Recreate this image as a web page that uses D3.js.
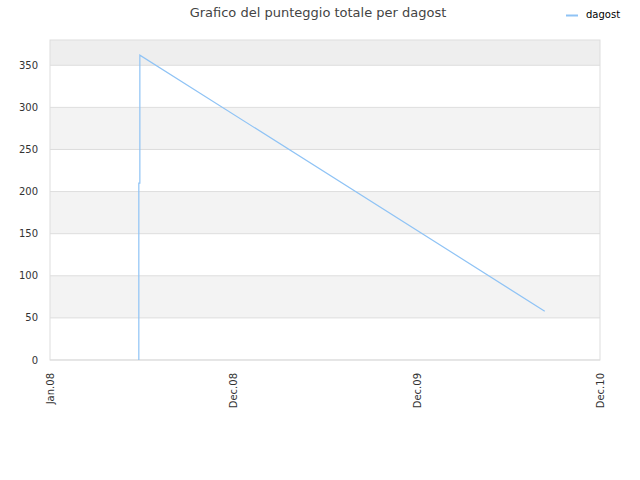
<!DOCTYPE html>
<html>
<head>
<meta charset="utf-8">
<script src="https://cdn.jsdelivr.net/npm/d3@7"></script>
<style>
  body { margin: 0; background: #fff; }
  text { font-family: "DejaVu Sans", sans-serif; }
</style>
</head>
<body>
<div id="chart"></div>
<script>
// data
var dates = ["2008-06-21", "2008-06-21", "2008-06-23", "2008-06-23", "2010-08-16"];
var scores = [0, 210, 210, 362, 58];
var yTicks = [0, 50, 100, 150, 200, 250, 300, 350];
var xStart = "2008-01-01", xEnd = "2010-12-01";
var seriesName = "dagost";
var title = "Grafico del punteggio totale per dagost";

var W = 640, H = 480;
var margin = { top: 40, right: 40, bottom: 120, left: 50 };
var width = W - margin.left - margin.right;
var height = H - margin.top - margin.bottom;
var parse = d3.timeParse("%Y-%m-%d");

var svg = d3.select("#chart").append("svg")
    .attr("width", W)
    .attr("height", H);

var x = d3.scaleTime()
    .domain([parse(xStart), parse(xEnd)])
    .range([0, width]);
var y = d3.scaleLinear()
    .domain([0, 380])
    .range([height, 0]);

var g = svg.append("g")
    .attr("transform", "translate(" + margin.left + "," + margin.top + ")");

// alternating bands, top one a bit darker
var bandEdges = yTicks.concat([380]);
g.selectAll(".band")
    .data(d3.range(bandEdges.length - 1))
    .enter().append("rect")
    .attr("x", 0)
    .attr("width", width)
    .attr("y", function(i){ return y(bandEdges[i + 1]); })
    .attr("height", function(i){ return y(bandEdges[i]) - y(bandEdges[i + 1]); })
    .style("fill", function(i){
        if (i == bandEdges.length - 2) return "#eeeeee";
        return i % 2 == 1 ? "#f3f3f3" : "#ffffff";
    });

g.selectAll(".grid")
    .data(yTicks)
    .enter().append("line")
    .attr("x1", 0).attr("x2", width)
    .attr("y1", function(d){ return y(d); })
    .attr("y2", function(d){ return y(d); })
    .style("stroke", "#dddddd")
    .style("stroke-width", "1px");

g.append("rect")
    .attr("width", width)
    .attr("height", height)
    .style("fill", "none")
    .style("stroke", "#dddddd");

// y labels
g.selectAll(".ylabel")
    .data(yTicks)
    .enter().append("text")
    .text(function(d){ return d; })
    .attr("x", -12)
    .attr("y", function(d){ return y(d); })
    .attr("dy", "0.35em")
    .style("text-anchor", "end")
    .style("font-size", "10px")
    .attr("fill", "#333");

// x labels, domain split in three
var t0 = parse(xStart).getTime(), t1 = parse(xEnd).getTime();
var xTicks = d3.range(4).map(function(i){ return new Date(t0 + (t1 - t0) * i / 3); });
var fmt = d3.timeFormat("%b.%y");
g.selectAll(".xlabel")
    .data(xTicks)
    .enter().append("text")
    .text(function(d){ return fmt(d); })
    .attr("transform", function(d){ return "translate(" + (x(d) + 4) + "," + (height + 13) + ") rotate(-90)"; })
    .style("text-anchor", "end")
    .style("font-size", "10px")
    .attr("fill", "#333");

var points = dates.map(function(d, i){ return { date: parse(d), value: scores[i] }; });
var line = d3.line()
    .x(function(d){ return x(d.date); })
    .y(function(d){ return y(d.value); });

g.append("path")
    .datum(points)
    .attr("d", line)
    .style("fill", "none")
    .style("stroke", "#8fc3f5")
    .style("stroke-width", "1.2px");

// title
svg.append("text")
    .text(title)
    .attr("x", 318)
    .attr("y", 17)
    .style("text-anchor", "middle")
    .style("font-size", "13px")
    .attr("fill", "#444");

// legend
svg.append("line")
    .attr("x1", 566).attr("x2", 578)
    .attr("y1", 15.5).attr("y2", 15.5)
    .style("stroke", "#8fc3f5")
    .style("stroke-width", "2px");
svg.append("text")
    .text(seriesName)
    .attr("x", 586)
    .attr("y", 18)
    .style("font-size", "10px")
    .attr("fill", "#000");
</script>
</body>
</html>
